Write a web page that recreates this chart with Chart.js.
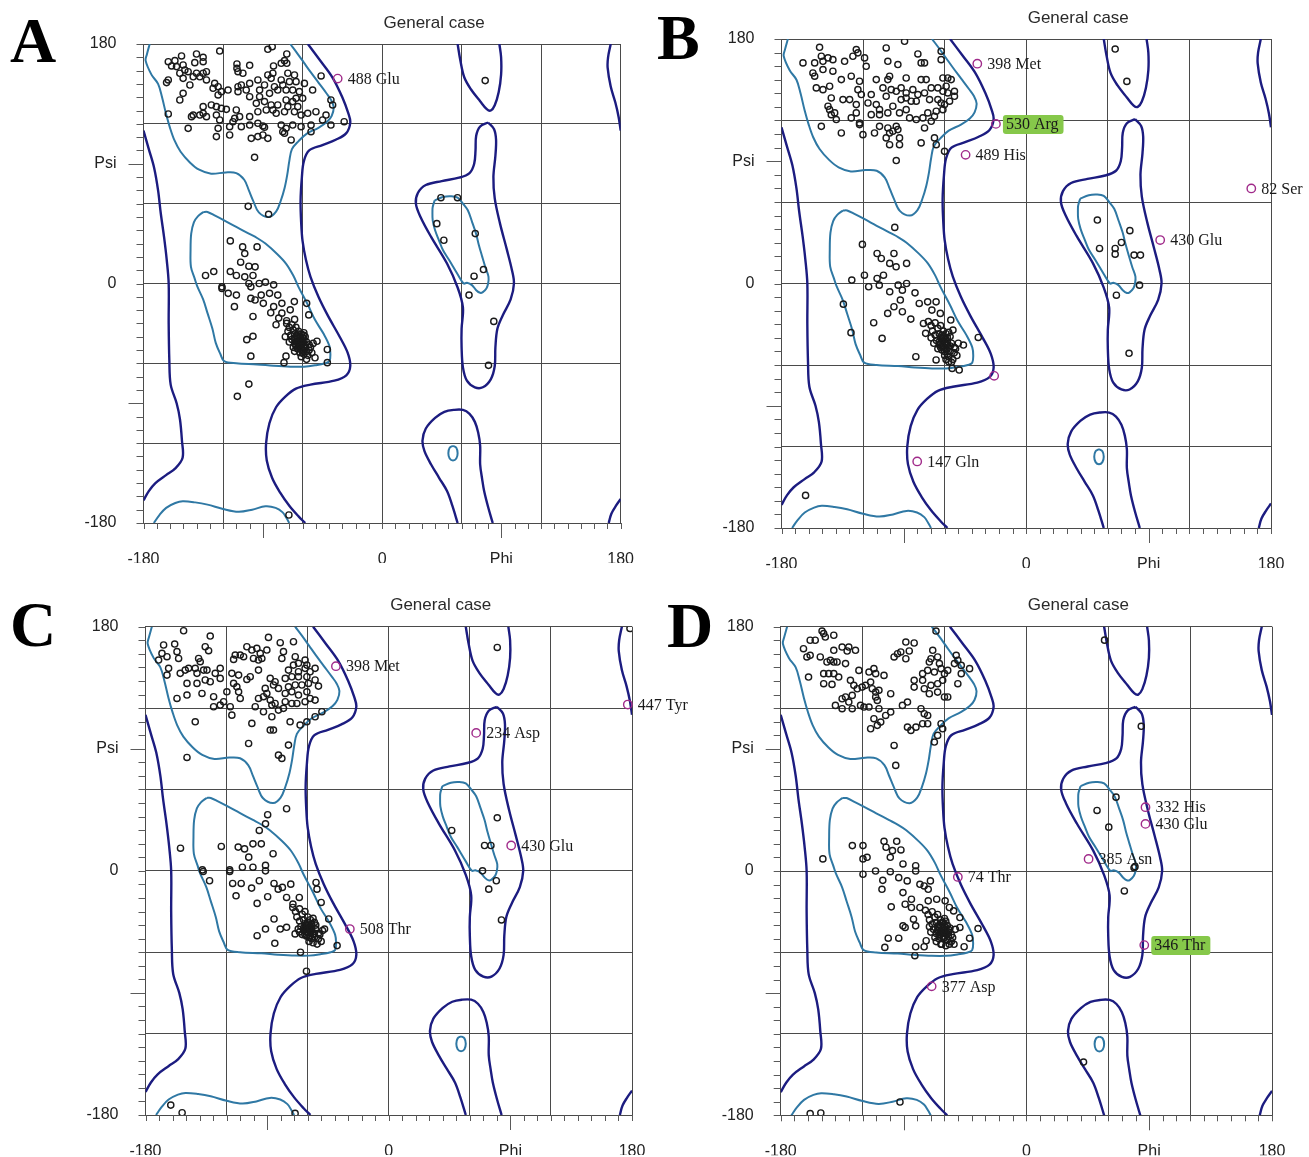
<!DOCTYPE html>
<html><head><meta charset="utf-8">
<script src="https://cdn.jsdelivr.net/npm/chart.js@4.4.0/dist/chart.umd.min.js"></script>
<style>
body{margin:0;background:#fff;width:1309px;height:1157px;position:relative;overflow:hidden}
canvas{position:absolute}
.letter{position:absolute;font-family:'Liberation Serif','DejaVu Serif',serif;font-weight:bold;font-size:64px;line-height:64px;color:#000}
</style></head><body>
<canvas id="cA" width="654" height="578" style="left:0;top:0"></canvas>
<canvas id="cC" width="720" height="579" style="left:0;top:578px"></canvas>
<canvas id="cB" width="655" height="578" style="left:654px;top:0"></canvas>
<canvas id="cD" width="655" height="579" style="left:654px;top:578px"></canvas>
<div class="letter" style="left:10px;top:9px">A</div>
<div class="letter" style="left:657px;top:6px">B</div>
<div class="letter" style="left:10px;top:593px">C</div>
<div class="letter" style="left:667px;top:594px">D</div>
<script>
// ---------- axis labels ----------
const xTickValues = [-180, 0, 90, 180];
const xTickLabels = ['-180', '0', 'Phi', '180'];
const yTickValues = [180, 90, 0, -180];
const yTickLabels = ['180', 'Psi', '0', '-180'];
const longTickValues = [-90, 90];
const panelTitle = 'General case';

// ---------- contour lines [phi, psi] ----------
const darkLeftRight = [[-56,180],[-47,168],[-37.5,155],[-30,140],[-25.5,128],[-24,121],[-27,113],[-35,108],[-45,104],[-55,100],[-59,92],[-60.5,80],[-61.5,62],[-61,45],[-60,32],[-57.5,18],[-54,5],[-48,-10],[-41,-24],[-32,-40],[-26,-52],[-24,-62],[-27,-69],[-36,-73],[-54,-76],[-65,-79],[-73,-85],[-80,-93],[-85,-105],[-87.5,-120],[-87,-133],[-83,-146],[-77,-157],[-70,-167],[-63,-175],[-58,-180]];
const darkLeftLeft = [[-180,115],[-176,101],[-172,87],[-169,70],[-167,53],[-164.5,35],[-162.5,18],[-161,0],[-161,-30],[-160.5,-58],[-159.5,-76],[-155,-90],[-152.5,-102],[-151,-118],[-150.5,-131],[-156,-139],[-163,-144],[-171,-150],[-176,-156],[-180,-163]];
const darkRightTop = [[172.5,180],[170.5,170],[170.2,162],[172.5,148],[176,136],[178.5,125],[180,115]];
const darkRightBottom = [[180,-162],[176.5,-167],[173,-173],[171,-180]];
const darkTopFinger = [[57,180],[59,168],[62,155],[67,146],[74,137],[79,131],[82,130],[85,134],[88,144],[89.8,157],[89.8,170],[88.5,180]];
const darkBottomLobe = [[57,-180],[53,-167],[49,-156],[43,-146],[37,-136],[32,-126],[30.5,-118],[33,-109],[40,-101],[47,-96.5],[54,-95],[61,-95],[66,-98],[70,-104],[72.5,-112],[74,-122],[74,-136],[75.5,-147],[77,-156],[80,-168],[83.5,-180]];
const darkAlphaL = [[80,121],[84.5,116],[86,108],[85.5,96],[84,80],[85,64],[89,45],[94,26],[98,10],[99.5,0],[97,-12],[91,-24],[87,-34],[85.5,-48],[85,-62],[82,-72],[76,-78],[70,-78],[64,-73],[61,-63],[60,-48],[60,-34],[61,-18],[57,-3],[49,15],[37,35],[29,50],[25.5,60],[27,68],[33,74],[45,77],[58,79.5],[66,83],[69.5,90],[70.5,100],[71,111],[74,118],[80,121]];
const lightBetaTop = [[-175.3,180],[-177.5,172],[-178.4,167.5],[-174,157],[-169,150],[-166,140],[-163,127.5],[-160,117],[-156.6,107.5],[-152,99],[-145,91],[-138,85.5],[-129,82.5],[-118,83.5],[-110,83],[-104,78],[-100.5,70],[-97.4,62.5],[-93,53.5],[-85.5,50],[-80,54],[-76.5,62],[-73.5,72],[-71.5,82],[-70,92],[-68,101],[-63,107],[-57,112.5],[-48,117],[-41.5,121.5],[-38,126],[-36.5,132.5],[-38.5,138],[-42,143],[-48,151],[-54,159],[-59,166],[-64,173],[-69.3,180]];
const lightBetaBottom = [[-172.2,-180],[-168,-174],[-162.9,-168.6],[-156,-165],[-150.4,-163.7],[-141,-164.5],[-131.7,-166.2],[-120,-169.5],[-108.3,-171.6],[-98,-170],[-88,-167.4],[-80.3,-168.6],[-75,-172],[-72,-176.5],[-70,-180]];
const lightAlphaR = [[-134.8,53.75],[-139,50.5],[-142,46],[-144,37.5],[-144.5,25],[-144.2,12.5],[-141.5,4],[-139.5,-2],[-135,-12],[-131.7,-22.3],[-128,-34],[-125.5,-44.6],[-122,-53],[-119.2,-58.3],[-110,-60],[-94.3,-60.8],[-82,-61.8],[-69.3,-62.5],[-59,-62.5],[-50.6,-61.5],[-43,-60],[-39.7,-58.3],[-39,-53],[-39.7,-47],[-44,-38],[-50.6,-27.3],[-56,-16],[-63.1,-2.5],[-67,6],[-72.5,15],[-79,22],[-88,30],[-94,34],[-100.5,37.5],[-110,42.5],[-119.2,47.5],[-126,51],[-131.7,53.75],[-134.8,53.75]];
const lightAlphaL = [[39.7,62.5],[46,65],[52,65.5],[57,64.5],[61,60],[64.7,55],[68,46],[70.9,37.5],[73,29],[75.6,20],[78,12],[80.3,5],[80,0],[78.7,-3.7],[76,-6.5],[74,-7],[71,-5],[67.8,-1.2],[64,0.5],[61.6,0],[57,7],[50.7,17.5],[46,25],[42.9,32.5],[40,40],[38.2,47.5],[38,54],[38.2,57.5],[39.7,62.5]];
const lightOval = [[53.5,-122],[56,-123.5],[57,-127.5],[56,-131.5],[53.5,-133],[51,-131.5],[50,-127.5],[51,-123.5],[53.5,-122]];

// ---------- panel A ----------
const betaA = [[-122.5,174.7],[-86.2,176],[-82.9,178],[-71.9,172.5],[-161.3,166.7],[-156.3,167.5],[-151.3,171],[-140,172.5],[-135,170],[-141.3,166],[-135,166.7],[-158.8,163.5],[-155.1,163],[-150.1,164.2],[-109.5,165],[-99.9,164],[-109.5,161.7],[-81.9,163.5],[-76.1,165.5],[-73.6,167.5],[-71.9,165.5],[-148.8,160.5],[-152.6,158],[-146.3,159.2],[-140,158],[-135,158],[-132.5,159.2],[-137.5,155.4],[-150.1,154.2],[-142.5,155.4],[-108.7,159.2],[-105,158],[-86.2,156.7],[-82.4,158],[-76.1,153],[-71.1,158],[-66.1,156.7],[-83.7,154.2],[-161.3,153],[-162.6,151],[-145,149.2],[-132.5,153],[-126.3,150.4],[-123.7,147.9],[-116.2,145.4],[-108.7,147.9],[-106.2,149.2],[-99.9,150.4],[-102.5,145.4],[-93.7,153],[-92.4,145.4],[-88.7,149.2],[-81.2,147.9],[-74.9,149.2],[-69.9,151.7],[-64.9,151.7],[-58.6,150.4],[-150.1,142.9],[-152.6,137.9],[-127.5,146.7],[-123.7,141.7],[-121.2,144.2],[-108.7,144.2],[-99.9,140.4],[-92.4,140.4],[-84.9,142.9],[-78.7,145.4],[-72.4,145.4],[-67.4,145.4],[-62.4,144.2],[-52.4,145.4],[-135,132.9],[-128.8,134.2],[-125,132.9],[-121.2,131.6],[-117.5,130.9],[-110,130.4],[-94.9,135.4],[-88.7,136.7],[-83.7,134.2],[-78.7,134.2],[-72.4,137.9],[-67.4,136.7],[-64.9,139.2],[-59.9,139.2],[-71.1,132.9],[-63.6,132.9],[-38.6,137.9],[-37.3,134.2],[-161.3,127.4],[-143.8,125.4],[-142.5,126.6],[-137.5,126.6],[-135,127.9],[-132.5,125.4],[-125,126.6],[-122.5,122.9],[-111.2,124.1],[-107.5,125.4],[-99.9,125.4],[-93.7,129.1],[-87.4,130.4],[-79.9,127.9],[-82.4,130.4],[-73.6,129.1],[-66.1,129.1],[-61.1,126.6],[-56.1,127.9],[-49.9,129.1],[-42.3,126.6],[-44.9,122.9],[-146.3,116.6],[-123.7,116.6],[-115,117.9],[-112.5,121.6],[-106.2,117.9],[-99.9,119.1],[-93.7,120.4],[-89.9,118.4],[-88.7,117.4],[-76.1,119.1],[-72.4,116.6],[-67.4,119.1],[-61.1,117.9],[-53.6,119.1],[-38.6,119.1],[-28.6,121.6],[-125,110.4],[-115,111.6],[-98.7,109.1],[-93.7,110.4],[-89.9,111.6],[-86.2,109.1],[-74.9,114.1],[-73.6,112.9],[-68.6,107.9],[-53.6,114.1],[-96.2,94.8],[-46,156],[-101,58],[-85.6,52]];
const alphaA = [[-114.5,32],[-105.2,27.5],[-94.3,27.5],[-103.6,22.5],[-106.7,16],[-100.5,13],[-95.8,12.5],[-133.2,6],[-127,9],[-114.5,9],[-109.9,6],[-103.6,5],[-97.4,6],[-81.8,-1],[-120.8,-2.5],[-100.5,0],[-92.7,0],[-88,1],[-120.8,-3.7],[-116.1,-7.4],[-109.9,-8.7],[-111.4,-17.4],[-99,-2.5],[-99,-11.2],[-95.8,-12.4],[-91.2,-8.7],[-84.9,-7.4],[-78.7,-8.7],[-89.6,-14.9],[-81.8,-17.4],[-75.6,-14.9],[-69.3,-19.8],[-66.2,-13.6],[-56.9,-14.9],[-55.3,-23.6],[-75.6,-22.3],[-97.4,-24.8],[-102.1,-42.2],[-97.4,-39.7],[-99,-54.6],[-72.5,-54.6],[-74,-59.5],[-50.6,-55.8],[-41.3,-49.6],[-41.3,-59.5],[-49.1,-43.4],[-100.5,-75.6],[-109.2,-84.8],[-70.3,-174],[-78,-26],[-72,-28],[-80,-31],[-84,-22],[-66,-27],[44.4,64.5],[56.9,64.5],[41.3,45],[46.6,32.5],[70.3,37.5],[76.5,10.5],[69.4,5.5],[77.8,152.5],[65.6,-8.7],[84.3,-28.5],[80.3,-61.5]];
const clusterA = [[-72,-30],[-70,-33],[-68,-31],[-71,-36],[-67,-35],[-65,-33],[-69,-39],[-66,-38],[-63,-36],[-61,-38],[-68,-42],[-64,-41],[-62,-43],[-60,-41],[-58,-40],[-66,-45],[-63,-46],[-60,-45],[-57,-44],[-55,-46],[-64,-49],[-61,-48],[-58,-49],[-55,-50],[-53,-52],[-62,-52],[-59,-53],[-56,-54],[-65,-44],[-59,-37],[-67,-48],[-70,-44],[-54,-48],[-57,-57],[-61,-55],[-52,-45],[-73,-40],[-66,-51],[-64,-39],[-62,-46],[-60,-50],[-58,-46],[-63,-43],[-65,-47],[-59,-43],[-64,-44],[-62,-40],[-60,-44],[-58,-48],[-61,-45],[-63,-49],[-59,-47],[-65,-42],[-57,-51],[-62,-48],[-60,-52],[-66,-41],[-61,-43],[-59,-39],[-63,-38]];
const outliersA = [[-33.5,154,'488 Glu',false]];

// ---------- panel B ----------
const betaB = [[-89.5,178.3],[-152,173.9],[-103,173.4],[-125,172.2],[-79.7,169],[-62.6,171],[-164.2,162.4],[-155.6,162.4],[-150.7,167.3],[-149.5,163.6],[-145.8,166.1],[-142.2,164.8],[-133.6,163.6],[-127.5,167.3],[-123.8,169.8],[-118.9,166.1],[-117.7,159.9],[-101.8,163.6],[-94.4,161.2],[-77.3,162.4],[-74.8,162.4],[-62.6,164.8],[-156.9,155],[-155.6,152.6],[-149.5,157.5],[-142.2,156.3],[-136,150.1],[-128.7,152.6],[-122.6,148.9],[-110.3,150.1],[-101.8,150.1],[-100.5,152.6],[-88.3,151.3],[-77.3,150.1],[-73.6,150.1],[-61.3,151.3],[-57.7,151.3],[-55.2,150.1],[-154.4,144],[-149.5,142.7],[-144.6,145.2],[-123.8,142.7],[-121.3,139.1],[-114,139.1],[-105.4,144],[-103,137.8],[-99.3,142.7],[-95.6,141.5],[-92,144],[-88.3,140.3],[-83.4,142.7],[-79.7,139.1],[-74.8,140.3],[-69.9,144],[-65,144],[-61.3,141.5],[-57.7,140.3],[-52.8,141.5],[-58.9,145.2],[-143.4,136.6],[-134.8,135.4],[-129.9,135.4],[-125,131.7],[-116.4,132.9],[-110.3,131.7],[-107.9,128],[-98.1,130.5],[-92,135.4],[-88.3,136.6],[-84.6,134.2],[-80.9,134.2],[-71.1,135.4],[-65,135.4],[-62.6,132.9],[-56.4,134.2],[-52.8,137.8],[-145.8,130.5],[-144.6,128],[-143.4,124.3],[-140.9,125.6],[-139.7,120.7],[-128.7,121.9],[-125,125.6],[-122.6,118.2],[-114,124.3],[-107.9,124.3],[-101.8,125.6],[-93.2,125.6],[-88.3,128],[-85.8,121.9],[-80.9,120.7],[-76,121.9],[-72.4,125.6],[-67.5,123.1],[-66.2,126.8],[-61.3,128],[-60.1,131.7],[-150.7,115.7],[-136,110.8],[-122.6,117],[-120.1,109.6],[-111.6,110.8],[-107.9,115.7],[-101.8,114.5],[-95.6,115.7],[-98.1,112.1],[-94.4,113.3],[-100.5,110.8],[-74.8,114.5],[-69.9,119.4],[-103,107.2],[-100.5,102.2],[-93.2,107.2],[-93.2,102.2],[-77.3,103.5],[-67.5,107.2],[-66.2,102.2],[-95.6,90.5],[-60.1,97.3]];
const alphaB = [[-96.7,41.3],[-120.5,28.8],[-109.7,22.1],[-97.3,22.1],[-106.6,18.4],[-100.4,14.8],[-95.7,12.3],[-88,14.8],[-128.3,2.5],[-119,6.1],[-109.7,3.7],[-105,6.1],[-134.5,-15.2],[-128.9,-36.2],[-112.2,-28.9],[-106,-40.4],[-101.9,-22],[-97.3,-17.1],[-91.1,-20.8],[-92.6,-12.2],[-84.9,-26.2],[-81.2,-53.9],[-81.8,-6.9],[-78.7,-14.7],[-72.5,-13.5],[-66.3,-13.5],[-69.4,-19.6],[-63.2,-22],[-55.5,-26.9],[-53.9,-34.3],[-46.2,-45.3],[-35.3,-39.7],[-49.3,-63.7],[-54.5,-62.5],[-57,-57.6],[-66.3,-56.3],[-74,-36.7],[-75.6,-29.4],[-162.3,-156],[-115.9,-2.4],[-108.1,-1.2],[-100.4,-6.1],[-91.1,-4.9],[-88,0],[-94.2,-1.2],[65.4,172.6],[74,148.8],[52.3,46.7],[76.2,38.9],[53.9,25.8],[65.4,25.8],[65.4,21.6],[70,30.2],[79.3,20.9],[84,20.9],[83.3,-1.2],[66.3,-8.6],[75.6,-51.4]];
const clusterB = [[-72,-28],[-70,-31],[-67,-29],[-69,-35],[-65,-33],[-63,-31],[-67,-38],[-64,-37],[-61,-35],[-59,-37],[-66,-42],[-62,-41],[-60,-43],[-58,-40],[-56,-39],[-64,-45],[-61,-46],[-58,-45],[-55,-44],[-53,-47],[-62,-49],[-59,-49],[-56,-50],[-53,-51],[-51,-53],[-60,-53],[-57,-54],[-54,-56],[-63,-44],[-57,-36],[-65,-48],[-68,-44],[-52,-48],[-55,-58],[-59,-56],[-50,-44],[-70,-40],[-62,-38],[-60,-47],[-58,-43],[-61,-42],[-59,-45],[-57,-47],[-63,-40],[-60,-50],[-62,-46],[-58,-52],[-64,-43],[-56,-46],[-61,-39],[-59,-41],[-63,-47]];
const outliersB = [[-36,161.8,'398 Met',false],[-22.3,117.5,'530 Arg',true],[-44.6,94.7,'489 His',false],[165.5,70,'82 Ser',false],[98.5,32,'430 Glu',false],[-23.6,-68,'',false],[-80.2,-131,'147 Gln',false]];

// ---------- panel C ----------
const betaC = [[-151.8,177],[-132.1,173.1],[-89,172.1],[-80.3,168.2],[-70.5,168.9],[-166.6,166.5],[-158.4,167.2],[-135.8,165.2],[-133.3,162.3],[-167.8,160.3],[-156.7,161.6],[-155.5,156.6],[-170.3,155.4],[-164.1,157.9],[-105,165.2],[-101.3,162.8],[-97.6,164],[-90.2,162.8],[-95.1,160.3],[-77.9,161.6],[-113.6,159.1],[-109.9,159.1],[-107.4,157.9],[-114.8,155.9],[-100.1,156.6],[-96.4,155.4],[-93.9,156.6],[-79.1,156.6],[-69.2,157.9],[-61.9,155.4],[-140.7,156.6],[-139.5,154.2],[-162.9,149.3],[-164.1,144.3],[-154.3,145.6],[-148.1,149.3],[-143.2,149.3],[-150.6,148],[-141.9,145.6],[-137,148],[-134.5,148],[-124.7,149.3],[-128.4,145.6],[-70.5,151.7],[-66.8,153],[-60.6,151.7],[-54.5,149.3],[-74.2,148],[-66.8,146.8],[-61.9,149.3],[-58.2,146.8],[-116.1,145.6],[-111.1,144.3],[-102.5,143.1],[-105,141.1],[-96.4,148],[-87.7,141.9],[-84.1,139.4],[-76.6,141.9],[-71.7,143.1],[-66.8,143.1],[-60.6,143.1],[-54.5,140.7],[-149.3,138.2],[-141.9,138.2],[-135.8,140.7],[-132.1,139.4],[-124.7,141.9],[-114.8,138.2],[-112.4,135.7],[-91.4,134.5],[-85.3,137],[-81.6,134.5],[-74.2,135.7],[-69.2,137],[-64.3,137],[-59.4,138.2],[-52,136.2],[-156.7,127.1],[-149.3,129.6],[-138.2,130.8],[-129.6,128.4],[-119.8,132],[-111.1,132],[-109.9,127.1],[-96.4,127.1],[-92.7,128.4],[-90.2,130.8],[-87.7,125.9],[-76.6,130.8],[-71.7,132],[-66.8,129.6],[-60.6,132],[-58.2,127.1],[-54.5,125.9],[-129.6,121],[-124.7,122.2],[-122.2,124.7],[-117.3,121],[-116.1,114.8],[-98.8,121],[-92.7,117.3],[-86.5,122.2],[-84.1,123.4],[-81.6,118.5],[-76.6,124.7],[-77.9,119.8],[-71.7,123.4],[-68,123.4],[-61.9,124.7],[-143.2,109.9],[-101.3,108.7],[-87.7,103.8],[-85.3,103.8],[-86.5,113.6],[-73,109.9],[-65.6,107.5],[-60.6,109.9],[-54.5,113.6],[-49.5,117.3],[-103.7,93.9],[-74.2,92.7],[-149.3,83.6],[-81.6,85.3],[-79.1,82.9]];
const alphaC = [[-89.6,41.4],[-75.6,45.8],[-91.2,34.7],[-95.8,29.8],[-154.1,16.7],[-123.9,18],[-111.4,17.5],[-106.7,16.2],[-100.5,19.9],[-94.3,19.9],[-85.6,12.6],[-103.6,10.1],[-137.9,0.7],[-117.7,0.7],[-108.3,2.7],[-100.5,2.7],[-91.2,4],[-137.3,-0.5],[-132.6,-7.3],[-117.7,-0.5],[-115.5,-9.3],[-109.2,-9.3],[-113,-18.4],[-101.5,-12.7],[-97.4,-24],[-95.8,-7.3],[-91.2,0],[-89.6,-19.1],[-84.9,-9.3],[-81.8,-13.5],[-78.7,-12.2],[-75.6,-19.6],[-72.5,-9.8],[-70.9,-24.5],[-84.9,-35.5],[-91.2,-42.9],[-97.4,-47.8],[-84.3,-53.4],[-80.3,-42.9],[-75.6,-41.6],[-69.3,-46.5],[-66.2,-19.6],[-53.8,-8.6],[-53.1,-13.5],[-50,-23.3],[-44.4,-35.5],[-47.5,-42.9],[-38.2,-55.1],[-65.3,-60],[-60.9,-74],[-161.3,-172.7],[-152.9,-178.3],[-69.3,-178.8],[80.3,164.7],[178.5,178.7],[80.3,39.1],[46.6,29.8],[70.9,18.7],[75.6,18.7],[69.4,0],[79.6,-7.3],[74,-13.5],[83.4,-36.2]];
const clusterC = [[-71,-27],[-69,-30],[-66,-28],[-68,-34],[-64,-32],[-62,-30],[-66,-37],[-63,-36],[-60,-34],[-58,-36],[-65,-41],[-61,-40],[-59,-42],[-57,-39],[-55,-38],[-63,-44],[-60,-45],[-57,-44],[-54,-43],[-52,-46],[-61,-48],[-58,-48],[-55,-49],[-52,-50],[-50,-52],[-59,-52],[-56,-53],[-53,-54],[-62,-43],[-56,-35],[-64,-47],[-67,-43],[-51,-47],[-60,-38],[-58,-46],[-62,-39],[-54,-40],[-66,-45],[-49,-44],[-57,-50],[-60,-42],[-58,-44],[-56,-47],[-62,-41],[-59,-49],[-61,-45],[-57,-41],[-63,-42],[-55,-46],[-60,-40],[-58,-42],[-62,-47]];
const outliersC = [[-39.1,150.9,'398 Met',false],[176.9,122.6,'447 Tyr',false],[64.7,101.7,'234 Asp',false],[90.6,18.7,'430 Glu',false],[-28.8,-42.9,'508 Thr',false]];

// ---------- panel D ----------
const betaD = [[-149.7,176.8],[-148.5,174.9],[-141.1,173.7],[-66.2,176.8],[-158.4,170],[-154.7,170],[-147.3,172.4],[-163.3,163.8],[-158.4,158.9],[-160.8,157.7],[-151,157.7],[-143.6,155.2],[-141.1,154],[-146.1,154],[-138.7,154],[-141.1,162.6],[-135,165],[-130.1,165],[-131.3,162.1],[-125.2,162.6],[-132.5,152.8],[-88.3,168.7],[-82.2,168],[-85.8,162.1],[-92,161.4],[-94.4,160.1],[-96.9,157.7],[-88.3,156.4],[-68.6,162.6],[-65,157.7],[-69.9,156.4],[-71.1,154],[-63.7,152.8],[-51.4,158.9],[-50.2,155.2],[-47.7,151.5],[-52.7,152.8],[-41.6,149.1],[-122.7,147.8],[-115.3,146.6],[-111.7,149.1],[-110.4,145.4],[-104.3,144.1],[-148.5,145.4],[-144.8,145.4],[-141.1,145.4],[-137.5,142.9],[-159.6,142.9],[-148.5,138],[-142.4,137.5],[-128.9,140.5],[-126.4,136.8],[-123.9,134.3],[-120.3,135.5],[-117.8,136.8],[-114.1,139.2],[-112.9,134.3],[-110.4,131.8],[-108,133.1],[-99.4,130.6],[-82.2,140.5],[-82.2,135.5],[-76,145.4],[-76,140.5],[-72.3,147.8],[-67.4,146.6],[-62.5,149.1],[-60,145.4],[-57.6,147.8],[-74.8,134.3],[-69.9,136.8],[-65,138],[-61.3,140.5],[-71.1,130.6],[-65,131.8],[-60,128.2],[-57.6,128.2],[-47.7,145.4],[-50.2,138],[-135,126.9],[-132.5,128.2],[-127.6,129.4],[-130.1,124.5],[-139.9,122],[-135,119.6],[-127.6,119.6],[-121.5,122],[-119,120.8],[-110.4,128.2],[-109.2,125.7],[-115.3,120.8],[-90.8,122],[-87.1,124.5],[-77.2,119.6],[-74.8,115.9],[-72.3,114.6],[-108,119.6],[-103.1,114.6],[-99.4,117.1],[-106.7,109.7],[-111.7,112.2],[-114.1,104.8],[-109.2,107.3],[-87.1,106],[-84.6,103.6],[-80.9,106],[-76,108.5],[-72.3,108.5],[-62.5,108.5],[-61.3,104.8],[-65,99.9],[-67.4,95],[-96.9,92.5],[-95.7,77.8]];
const alphaD = [[57.3,170.1],[84.2,106.6],[65.7,54.4],[51.8,44.6],[60.4,32.3],[79.6,3.2],[-149.1,8.9],[-127.5,18.7],[-119.7,18.7],[-119.7,8.9],[-116.7,10.1],[-104.3,21.9],[-95,21.9],[-102.8,17.5],[-98.1,15],[-91.9,15.5],[-99.7,10.1],[-90.4,5.2],[-81.1,3.9],[-119.7,-2.4],[-110.5,0],[-105.2,-6.9],[-105.8,-13.5],[-99.7,-0.5],[-93.5,-4.9],[-87.3,-7.3],[-81.1,0],[-78,-9.8],[-74.9,-11],[-71.9,-13.5],[-70.3,-7.3],[-90.4,-15.9],[-84.2,-20.8],[-99,-26.4],[-88.8,-24.5],[-84.2,-26.9],[-78,-26.9],[-71.9,-22],[-65.7,-20.8],[-59.5,-22],[-56.4,-26.9],[-82.7,-35.5],[-88.8,-41.6],[-81.1,-40.4],[-90.4,-40.4],[-101.2,-49.5],[-93.5,-49.5],[-103.7,-56.3],[-81.1,-55.8],[-74.9,-55.8],[-73.4,-51.4],[-62.6,-53.9],[-56.4,-53.9],[-45.6,-55.8],[-41.6,-49.5],[-35.4,-42.4],[-81.7,-62.4],[-48.7,-41.6],[-48.7,-34.3],[-53.3,-29.4],[78.9,2.4],[71.8,-14.7],[41.9,-140.8],[-92.6,-170.2],[-158.4,-178.8],[-150.6,-178.3]];
const clusterD = [[-74,-29],[-72,-32],[-69,-30],[-71,-36],[-67,-34],[-65,-32],[-69,-39],[-66,-38],[-63,-36],[-61,-38],[-68,-43],[-64,-42],[-62,-44],[-60,-41],[-58,-40],[-66,-46],[-63,-47],[-60,-46],[-57,-45],[-55,-47],[-64,-50],[-61,-50],[-58,-51],[-55,-52],[-53,-54],[-62,-54],[-59,-55],[-65,-44],[-59,-37],[-67,-49],[-70,-45],[-54,-49],[-61,-42],[-63,-40],[-57,-48],[-52,-43],[-71,-41],[-66,-52],[-60,-35],[-56,-42],[-62,-42],[-60,-44],[-58,-46],[-64,-40],[-61,-48],[-63,-45],[-59,-43],[-65,-41],[-57,-43],[-62,-38],[-60,-49],[-64,-47]];
const outliersD = [[87.3,47,'332 His',false],[87.3,34.7,'430 Glu',false],[45.6,8.9,'385 Asn',false],[-50.2,-4.4,'74 Thr',false],[86.4,-54.6,'346 Thr',true],[-69.4,-85,'377 Asp',false]];

// ---------- drawing ----------
const DARK = '#1c1c80', LIGHT = '#2f78a4';
const contours = [
  {pts: darkLeftRight, c: DARK, w: 2.4}, {pts: darkLeftLeft, c: DARK, w: 2.4},
  {pts: darkRightTop, c: DARK, w: 2.4}, {pts: darkRightBottom, c: DARK, w: 2.4},
  {pts: darkTopFinger, c: DARK, w: 2.4}, {pts: darkBottomLobe, c: DARK, w: 2.4},
  {pts: darkAlphaL, c: DARK, w: 2.4},
  {pts: lightBetaTop, c: LIGHT, w: 2}, {pts: lightBetaBottom, c: LIGHT, w: 2},
  {pts: lightAlphaR, c: LIGHT, w: 2}, {pts: lightAlphaL, c: LIGHT, w: 2},
  {pts: lightOval, c: LIGHT, w: 2}
];
const toXY = a => a.map(p => ({x: p[0], y: p[1]}));

const decor = {
  id: 'decor',
  afterDraw(chart, args, opts) {
    const {ctx, chartArea: a, scales: {x, y}} = chart;
    ctx.save();
    ctx.strokeStyle = '#5a5a5a'; ctx.lineWidth = 1;
    const line = (x1, y1, x2, y2) => { ctx.beginPath(); ctx.moveTo(x1, y1); ctx.lineTo(x2, y2); ctx.stroke(); };
    for (const t of x.ticks) {
      const px = Math.round(x.getPixelForValue(t.value)) + 0.5;
      line(px, a.bottom, px, a.bottom + (longTickValues.includes(t.value) ? 15 : 6));
    }
    for (const t of y.ticks) {
      const py = Math.round(y.getPixelForValue(t.value)) + 0.5;
      line(a.left - (longTickValues.includes(t.value) ? 15 : 7), py, a.left, py);
    }
    ctx.fillStyle = '#2a2a2a';
    ctx.font = '17px "Liberation Sans", Arial, sans-serif';
    ctx.textAlign = 'center'; ctx.textBaseline = 'middle';
    ctx.fillText(opts.title, (a.left + a.right) / 2 + 52, a.top - 21);
    ctx.font = '16px "Liberation Serif", "Times New Roman", serif';
    ctx.textAlign = 'left';
    for (const o of opts.outs) {
      if (!o[2]) continue;
      const px = x.getPixelForValue(o[0]), py = y.getPixelForValue(o[1]);
      const w = ctx.measureText(o[2]).width;
      if (o[3]) {
        ctx.fillStyle = '#86c84a';
        const rx = px + 7, ry = py - 9, rw = w + 8, rh = 19, r = 3;
        ctx.beginPath();
        ctx.moveTo(rx + r, ry); ctx.lineTo(rx + rw - r, ry); ctx.quadraticCurveTo(rx + rw, ry, rx + rw, ry + r);
        ctx.lineTo(rx + rw, ry + rh - r); ctx.quadraticCurveTo(rx + rw, ry + rh, rx + rw - r, ry + rh);
        ctx.lineTo(rx + r, ry + rh); ctx.quadraticCurveTo(rx, ry + rh, rx, ry + rh - r);
        ctx.lineTo(rx, ry + r); ctx.quadraticCurveTo(rx, ry, rx + r, ry); ctx.fill();
      }
      ctx.fillStyle = '#1a1a1a';
      ctx.fillText(o[2], px + 10, py + 1);
    }
    ctx.restore();
  }
};

function gridColor(c) {
  return (c.tick && Math.abs(c.tick.value) % 60 === 0) ? '#4a4a4a' : 'rgba(0,0,0,0)';
}
function axis(isX) {
  const vals = isX ? xTickValues : yTickValues, labs = isX ? xTickLabels : yTickLabels;
  return {
    type: 'linear', min: -180, max: 180,
    afterFit: s => { if (isX) s.height = 40; else s.width = 60; },
    ticks: {
      stepSize: 10, autoSkip: false, maxRotation: 0, minRotation: 0, includeBounds: true,
      padding: 20, color: '#222', font: {family: '"Liberation Sans", Arial, sans-serif', size: 16},
      callback: v => { const i = vals.indexOf(v); return i >= 0 ? labs[i] : ''; }
    },
    grid: {color: gridColor, lineWidth: 1, drawTicks: true, tickLength: 7, tickColor: 'rgba(0,0,0,0)'},
    border: {display: true, color: '#4a4a4a', width: 1}
  };
}

function makePanel(id, beta, alpha, cluster, outs, pad) {
  const datasets = [
    {data: toXY(outs), showLine: false, pointRadius: 4.2, pointBorderWidth: 1.4,
     pointBorderColor: '#a02a8a', pointBackgroundColor: 'rgba(0,0,0,0)', order: 0, clip: false},
    {data: toXY(beta.concat(alpha, cluster)), showLine: false, pointRadius: 3.1, pointBorderWidth: 1.4,
     pointBorderColor: '#1a1a1a', pointBackgroundColor: 'rgba(255,255,255,0)', order: 1}
  ];
  for (const c of contours) {
    datasets.push({data: toXY(c.pts), showLine: true, pointRadius: 0, borderColor: c.c,
      borderWidth: c.w, tension: 0.35, fill: false, order: 2});
  }
  new Chart(document.getElementById(id), {
    type: 'scatter',
    data: {datasets},
    options: {
      responsive: false, animation: false, events: [],
      layout: {padding: pad},
      plugins: {legend: {display: false}, tooltip: {enabled: false}, decor: {title: panelTitle, outs}},
      scales: {x: axis(true), y: axis(false)}
    },
    plugins: [decor]
  });
}

makePanel('cA', betaA, alphaA, clusterA, outliersA, {left: 83.5, right: 32, top: 44, bottom: 15});
makePanel('cB', betaB, alphaB, clusterB, outliersB, {left: 67.5, right: 38, top: 39, bottom: 10});
makePanel('cC', betaC, alphaC, clusterC, outliersC, {left: 85.5, right: 88, top: 48.7, bottom: 2});
makePanel('cD', betaD, alphaD, clusterD, outliersD, {left: 66.7, right: 37, top: 48.7, bottom: 1.7});
</script>
</body></html>
